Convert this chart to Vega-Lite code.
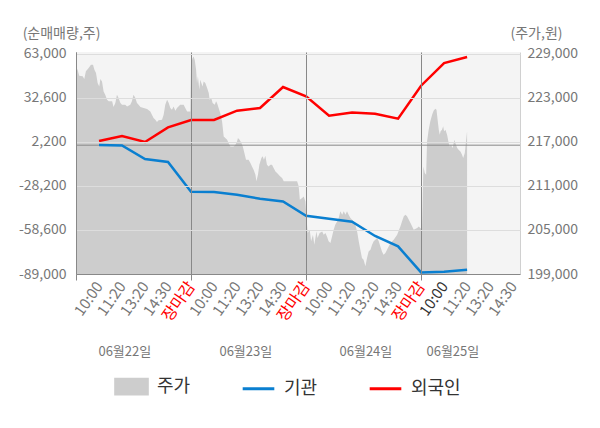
{
  "$schema": "https://vega.github.io/schema/vega-lite/v6.json",
  "width": 444,
  "height": 222,
  "autosize": "none",
  "padding": {"left": 76, "top": 52, "right": 80, "bottom": 154},
  "background": "white",
  "datasets": {
    "price": [
      {"t":0,"price":227090},{"t":0.07,"price":226860},{"t":0.14,"price":226040},{"t":0.29,"price":225950},{"t":0.36,"price":225590},{"t":0.43,"price":226630},{"t":0.55,"price":227090},{"t":0.65,"price":227540},{"t":0.74,"price":227540},{"t":0.8,"price":226860},{"t":0.87,"price":226410},{"t":0.94,"price":225050},{"t":1.01,"price":224580},{"t":1.06,"price":225590},{"t":1.13,"price":225260},{"t":1.2,"price":223900},{"t":1.27,"price":223450},{"t":1.35,"price":222770},{"t":1.42,"price":222540},{"t":1.57,"price":222540},{"t":1.63,"price":221770},{"t":1.71,"price":222320},{"t":1.78,"price":223450},{"t":1.85,"price":223000},{"t":1.93,"price":222320},{"t":2.0,"price":222090},{"t":2.14,"price":222090},{"t":2.22,"price":221850},{"t":2.36,"price":222090},{"t":2.43,"price":222540},{"t":2.5,"price":223450},{"t":2.58,"price":223000},{"t":2.65,"price":222320},{"t":2.72,"price":222090},{"t":2.8,"price":221770},{"t":2.94,"price":221640},{"t":3.09,"price":221500},{"t":3.23,"price":221170},{"t":3.3,"price":220720},{"t":3.37,"price":220270},{"t":3.45,"price":220040},{"t":3.52,"price":219730},{"t":3.59,"price":219950},{"t":3.74,"price":220040},{"t":3.81,"price":220720},{"t":3.88,"price":222090},{"t":3.96,"price":222770},{"t":4.03,"price":222320},{"t":4.1,"price":221640},{"t":4.17,"price":221400},{"t":4.24,"price":221850},{"t":4.32,"price":221270},{"t":4.39,"price":221640},{"t":4.53,"price":222090},{"t":4.68,"price":222090},{"t":4.75,"price":221640},{"t":4.83,"price":221170},{"t":4.97,"price":221170},
      {"t":5.0,"price":227770},{"t":5.07,"price":228450},{"t":5.11,"price":228670},{"t":5.16,"price":228220},{"t":5.22,"price":226860},{"t":5.26,"price":225050},{"t":5.3,"price":225950},{"t":5.36,"price":224130},{"t":5.4,"price":225500},{"t":5.45,"price":225050},{"t":5.5,"price":224580},{"t":5.55,"price":225260},{"t":5.62,"price":225050},{"t":5.7,"price":224360},{"t":5.77,"price":223680},{"t":5.81,"price":222770},{"t":5.88,"price":223000},{"t":5.94,"price":222320},{"t":6.03,"price":222090},{"t":6.09,"price":222540},{"t":6.13,"price":222320},{"t":6.2,"price":221640},{"t":6.27,"price":220950},{"t":6.35,"price":219810},{"t":6.42,"price":217760},{"t":6.49,"price":217550},{"t":6.57,"price":217310},{"t":6.63,"price":216860},{"t":6.71,"price":216400},{"t":6.85,"price":216400},{"t":6.93,"price":216630},{"t":7.0,"price":217080},{"t":7.04,"price":217550},{"t":7.11,"price":217310},{"t":7.19,"price":216860},{"t":7.25,"price":216400},{"t":7.32,"price":215500},{"t":7.39,"price":214590},{"t":7.5,"price":214590},{"t":7.58,"price":214140},{"t":7.65,"price":213670},{"t":7.72,"price":213220},{"t":7.8,"price":212540},{"t":7.84,"price":211630},{"t":7.91,"price":212540},{"t":7.97,"price":213900},{"t":8.06,"price":214820},{"t":8.11,"price":215040},{"t":8.17,"price":214590},{"t":8.23,"price":215130},{"t":8.3,"price":213900},{"t":8.37,"price":213670},{"t":8.45,"price":213900},{"t":8.52,"price":213900},{"t":8.59,"price":213450},{"t":8.67,"price":212990},{"t":8.74,"price":212770},{"t":8.81,"price":212540},{"t":8.88,"price":212310},{"t":8.96,"price":212090},{"t":9.03,"price":211630},{"t":9.24,"price":211630},{"t":9.53,"price":211630},{"t":9.61,"price":211630},{"t":9.68,"price":210950},{"t":9.73,"price":209130},{"t":9.83,"price":209360},{"t":9.9,"price":209580},{"t":9.97,"price":208900},
      {"t":10.07,"price":204590},{"t":10.16,"price":205040},{"t":10.22,"price":203450},{"t":10.3,"price":204360},{"t":10.36,"price":203000},{"t":10.45,"price":204810},{"t":10.5,"price":203910},{"t":10.59,"price":204590},{"t":10.7,"price":204810},{"t":10.77,"price":204360},{"t":10.84,"price":204590},{"t":10.91,"price":204130},{"t":10.98,"price":203450},{"t":11.06,"price":203230},{"t":11.13,"price":204130},{"t":11.2,"price":205040},{"t":11.27,"price":205720},{"t":11.35,"price":206170},{"t":11.42,"price":206640},{"t":11.49,"price":207540},{"t":11.57,"price":207090},{"t":11.64,"price":207540},{"t":11.71,"price":207090},{"t":11.78,"price":207540},{"t":11.85,"price":207090},{"t":11.93,"price":206640},{"t":12.07,"price":206170},{"t":12.14,"price":205720},{"t":12.22,"price":204810},{"t":12.29,"price":203450},{"t":12.36,"price":202310},{"t":12.43,"price":201180},{"t":12.5,"price":200950},{"t":12.58,"price":200040},{"t":12.65,"price":201180},{"t":12.72,"price":202080},{"t":12.8,"price":202310},{"t":12.87,"price":203000},{"t":12.94,"price":203450},{"t":13.01,"price":203680},{"t":13.09,"price":203910},{"t":13.16,"price":203450},{"t":13.23,"price":202760},{"t":13.3,"price":202080},{"t":13.37,"price":201630},{"t":13.45,"price":201860},{"t":13.52,"price":202310},{"t":13.67,"price":203230},{"t":13.81,"price":203680},{"t":13.96,"price":204360},{"t":14.1,"price":205490},{"t":14.17,"price":206170},{"t":14.25,"price":206860},{"t":14.32,"price":207090},{"t":14.39,"price":206860},{"t":14.54,"price":205960},{"t":14.68,"price":205040},{"t":14.83,"price":205270},{"t":14.9,"price":205490},{"t":15.04,"price":205040},
      {"t":15.1,"price":213670},{"t":15.16,"price":212770},{"t":15.22,"price":212540},{"t":15.26,"price":217080},{"t":15.33,"price":218680},{"t":15.4,"price":219810},{"t":15.48,"price":220720},{"t":15.55,"price":221310},{"t":15.62,"price":221540},{"t":15.67,"price":221400},{"t":15.71,"price":220270},{"t":15.77,"price":218680},{"t":15.81,"price":218000},{"t":15.85,"price":218450},{"t":15.91,"price":218680},{"t":15.96,"price":219130},{"t":16.0,"price":218450},{"t":16.06,"price":218680},{"t":16.13,"price":218000},{"t":16.2,"price":216860},{"t":16.24,"price":216400},{"t":16.3,"price":216630},{"t":16.37,"price":216180},{"t":16.45,"price":217310},{"t":16.49,"price":216860},{"t":16.57,"price":216180},{"t":16.63,"price":215950},{"t":16.71,"price":215720},{"t":16.78,"price":215270},{"t":16.83,"price":214820},{"t":16.9,"price":215500},{"t":16.96,"price":217310},{"t":17.0,"price":218450}
    ],
    "flow": [
      {"t":1,"series":"기관","v":100},{"t":2,"series":"기관","v":-150},{"t":3,"series":"기관","v":-9540},{"t":4,"series":"기관","v":-11620},{"t":5,"series":"기관","v":-32140},{"t":6,"series":"기관","v":-32340},{"t":7,"series":"기관","v":-34210},{"t":8,"series":"기관","v":-36970},{"t":9,"series":"기관","v":-38840},{"t":10,"series":"기관","v":-48720},{"t":11,"series":"기관","v":-50790},{"t":12,"series":"기관","v":-52860},{"t":13,"series":"기관","v":-62740},{"t":14,"series":"기관","v":-69930},{"t":15,"series":"기관","v":-87890},{"t":16,"series":"기관","v":-87410},{"t":17,"series":"기관","v":-86030},
      {"t":1,"series":"외국인","v":2890},{"t":2,"series":"외국인","v":6350},{"t":3,"series":"외국인","v":2200},{"t":4,"series":"외국인","v":12290},{"t":5,"series":"외국인","v":17400},{"t":6,"series":"외국인","v":17400},{"t":7,"series":"외국인","v":23830},{"t":8,"series":"외국인","v":25690},{"t":9,"series":"외국인","v":40200},{"t":10,"series":"외국인","v":33700},{"t":11,"series":"외국인","v":20370},{"t":12,"series":"외국인","v":22650},{"t":13,"series":"외국인","v":21750},{"t":14,"series":"외국인","v":18300},{"t":15,"series":"외국인","v":41100},{"t":16,"series":"외국인","v":56780},{"t":17,"series":"외국인","v":60930}
    ]
  },
  "layer": [
    {
      "data": {"name": "price"},
      "mark": {"type": "area", "interpolate": "linear", "clip": true},
      "encoding": {
        "x": {
          "field": "t",
          "type": "quantitative",
          "scale": {"domain": [0, 19.3], "nice": false, "zero": false},
          "axis": {
            "orient": "bottom",
            "title": null,
            "values": [0,1,2,3,4,5,6,7,8,9,10,11,12,13,14,15,16,17,18,19],
            "labelExpr": "datum.value === 0 ? '' : (datum.value % 5 === 0 ? '장마감' : ['', '10:00', '11:20', '13:20', '14:30'][datum.value % 5])",
            "labelAngle": -55,
            "labelAlign": "right",
            "labelBaseline": "middle",
            "labelFontSize": {"condition": {"test": "datum.value % 5 === 0", "value": 16}, "value": 15},
            "labelPadding": 3,
            "labelFlush": false,
            "labelOverlap": false,
            "labelBound": false,
            "labelColor": {"condition": [{"test": "datum.value % 5 === 0", "value": "#ff0000"}, {"test": "datum.value === 16", "value": "#333333"}], "value": "#777777"},
            "tickSize": 6,
            "tickColor": {"condition": {"test": "datum.value % 5 === 0", "value": "#888888"}, "value": "transparent"},
            "grid": true,
            "gridColor": {"condition": {"test": "datum.value % 5 === 0", "value": "#888888"}, "value": "transparent"},
            "domainColor": "#888888",
            "zindex": 1
          }
        },
        "y": {
          "field": "price",
          "type": "quantitative",
          "scale": {"domain": [199000, 229270], "nice": false, "zero": false},
          "axis": {
            "orient": "right",
            "values": [199000, 205000, 211000, 217000, 223000, 229000],
            "format": ",d",
            "grid": false,
            "ticks": false,
            "tickSize": 0,
            "labelPadding": 7,
            "labelFlush": false,
            "labelFontSize": 14,
            "labelColor": "#777777",
            "domainColor": "#d0d0d0",
            "title": "(주가,원)",
            "titleAngle": 0,
            "titleAlign": "center",
            "titleBaseline": "middle",
            "titleX": 16,
            "titleY": -19
          }
        },
        "y2": {"datum": 199000},
        "color": {
          "datum": "주가",
          "type": "nominal",
          "title": null,
          "scale": {"domain": ["주가", "기관", "외국인"], "range": ["#cdcdcd", "#0a7fd0", "#ff0000"]},
          "legend": {
            "orient": "none",
            "legendX": 38,
            "legendY": 317,
            "direction": "horizontal",
            "title": null,
            "symbolSize": 1000,
            "labelFontSize": 18,
            "labelColor": "#333333",
            "labelOffset": 8,
            "columnPadding": 45,
            "encode": {
              "symbols": {
                "update": {
                  "shape": {"signal": "datum.label === '주가' ? 'M-1,-0.46H1V0.46H-1Z' : 'M-1,0H1'"},
                  "fill": {"signal": "datum.label === '주가' ? '#cdcdcd' : 'transparent'"},
                  "stroke": {"signal": "datum.label === '주가' ? 'transparent' : (datum.label === '기관' ? '#0a7fd0' : '#ff0000')"},
                  "strokeWidth": {"value": 3},
                  "opacity": {"value": 1}
                }
              }
            }
          }
        }
      }
    },
    {
      "layer": [
        {
          "data": {"values": [{}]},
          "mark": {"type": "rule", "color": "#888888", "strokeWidth": 1},
          "encoding": {"y": {"datum": 0, "type": "quantitative"}}
        },
        {
          "data": {"name": "flow"},
          "mark": {"type": "line", "strokeWidth": 2.5, "interpolate": "linear"},
          "encoding": {
            "x": {
              "field": "t",
              "type": "quantitative",
              "axis": {
                "orient": "bottom",
                "title": null,
                "values": [2.1, 7.36, 12.58, 16.36],
                "labelExpr": "datum.value < 5 ? '06월22일' : (datum.value < 10 ? '06월23일' : (datum.value < 15 ? '06월24일' : '06월25일'))",
                "labelAngle": 0,
                "labelAlign": "center",
                "labelFontSize": 13,
                "labelColor": "#777777",
                "labelFlush": false,
                "labelOverlap": false,
                "labelPadding": 2,
                "ticks": false,
                "tickSize": 0,
                "domain": false,
                "grid": false,
                "offset": 69
              }
            },
            "y": {
              "field": "v",
              "type": "quantitative",
              "scale": {"domain": [-89000, 64380], "nice": false, "zero": false},
              "axis": {
                "orient": "left",
                "values": [-89000, -58600, -28200, 2200, 32600, 63000],
                "format": ",d",
                "labelExpr": "replace(datum.label, '\u2212', '-')",
                "grid": true,
                "gridColor": "#dddddd",
                "ticks": false,
                "tickSize": 0,
                "labelPadding": 10,
                "labelFlush": false,
                "labelFontSize": 14,
                "labelColor": "#777777",
                "domainColor": "#888888",
                "title": "(순매매량,주)",
                "titleAngle": 0,
                "titleAlign": "center",
                "titleBaseline": "middle",
                "titleX": -15,
                "titleY": -19,
                "zindex": 1
              }
            },
            "color": {"field": "series", "type": "nominal", "title": null}
          }
        }
      ]
    }
  ],
  "resolve": {"scale": {"y": "independent"}, "axis": {"x": "independent"}},
  "config": {
    "font": "Noto Sans CJK KR",
    "view": {"fill": "#f4f4f4", "stroke": null},
    "axis": {"titleFontWeight": "normal", "titleFontSize": 14, "titleColor": "#777777", "labelFont": "Noto Sans CJK KR", "titleFont": "Noto Sans CJK KR"},
    "legend": {"labelFont": "Noto Sans CJK KR"}
  }
}
